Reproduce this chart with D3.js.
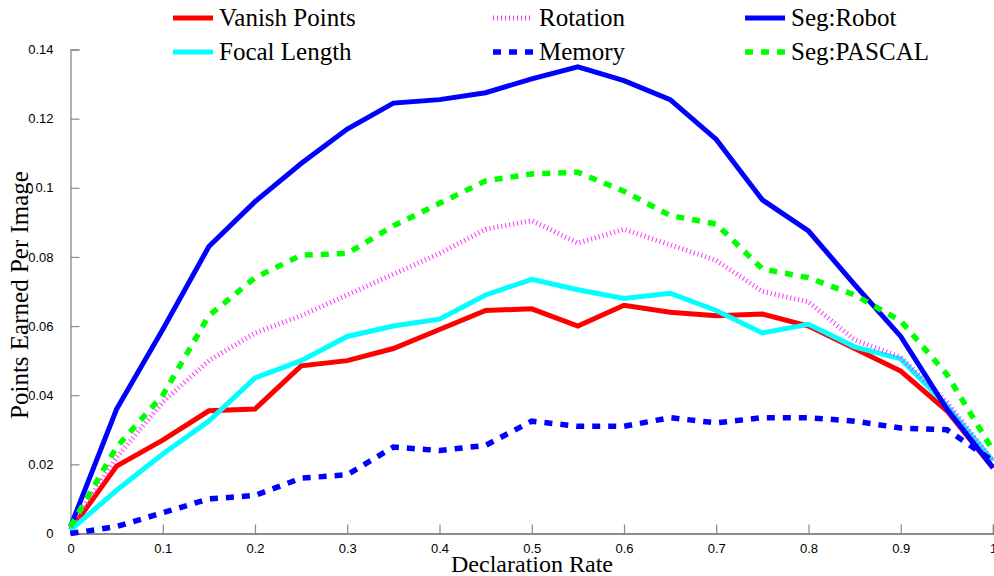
<!DOCTYPE html>
<html>
<head>
<meta charset="utf-8">
<script src="https://cdn.jsdelivr.net/npm/d3@7"></script>
<style>
  body { margin: 0; background: #fff; }
  svg { display: block; }
</style>
</head>
<body>
<div id="chart"></div>
<script>
// declaration rate sampled every 0.05
const rates = [0, 0.05, 0.1, 0.15, 0.2, 0.25, 0.3, 0.35, 0.4, 0.45, 0.5,
  0.55, 0.6, 0.65, 0.7, 0.75, 0.8, 0.85, 0.9, 0.95, 1.0];

const vanishPoints = [0.001, 0.0195, 0.027, 0.0355, 0.036, 0.0485, 0.050, 0.0535, 0.059, 0.0645, 0.065,
  0.060, 0.066, 0.064, 0.063, 0.0635, 0.060, 0.0535, 0.047, 0.0355, 0.019];
const focalLength = [0.001, 0.0125, 0.023, 0.0325, 0.045, 0.050, 0.057, 0.060, 0.062, 0.069, 0.0735,
  0.0705, 0.068, 0.0695, 0.0645, 0.058, 0.0605, 0.054, 0.0505, 0.037, 0.021];
const rotation = [0.002, 0.022, 0.038, 0.050, 0.058, 0.063, 0.069, 0.075, 0.081, 0.088, 0.0905,
  0.084, 0.088, 0.0835, 0.079, 0.070, 0.067, 0.056, 0.051, 0.038, 0.021];
const memory = [0.000, 0.002, 0.006, 0.010, 0.011, 0.016, 0.017, 0.025, 0.024, 0.0255, 0.0325,
  0.031, 0.031, 0.0335, 0.032, 0.0335, 0.0335, 0.0325, 0.0305, 0.030, 0.021];
const segRobot = [0.002, 0.036, 0.059, 0.083, 0.096, 0.107, 0.117, 0.1245, 0.1255, 0.1275, 0.1315,
  0.135, 0.131, 0.1255, 0.114, 0.0965, 0.0875, 0.072, 0.057, 0.036, 0.019];
const segPascal = [0.002, 0.025, 0.040, 0.063, 0.074, 0.0805, 0.081, 0.089, 0.0955, 0.102, 0.104,
  0.1045, 0.099, 0.092, 0.0895, 0.0765, 0.074, 0.069, 0.0615, 0.046, 0.024];

const xTicks = [0, 0.1, 0.2, 0.3, 0.4, 0.5, 0.6, 0.7, 0.8, 0.9, 1];
const yTicks = [0, 0.02, 0.04, 0.06, 0.08, 0.1, 0.12, 0.14];

// draw order follows legend order
const series = [
  { name: 'Vanish Points', values: vanishPoints, color: '#ff0000', width: 5, dash: null },
  { name: 'Focal Length', values: focalLength, color: '#00ffff', width: 5, dash: null },
  { name: 'Rotation', values: rotation, color: '#ff33ff', width: 5, dash: '1,3' },
  { name: 'Memory', values: memory, color: '#0000ff', width: 5.5, dash: '8,8' },
  { name: 'Seg:Robot', values: segRobot, color: '#0000ff', width: 5, dash: null },
  { name: 'Seg:PASCAL', values: segPascal, color: '#00ff00', width: 5.5, dash: '8,8' }
];

const width = 994, height = 576;
const svg = d3.select('#chart').append('svg')
  .attr('width', width)
  .attr('height', height);

const x = d3.scaleLinear().domain([0, 1]).range([70.5, 993]);
const y = d3.scaleLinear().domain([0, 0.14]).range([533.5, 49.5]);
const fmt = d3.format('~g');

// y axis (ticks point inward)
const yAxis = svg.append('g')
  .attr('transform', `translate(${x(0)},0)`)
  .call(d3.axisLeft(y).tickValues(yTicks).tickFormat(fmt).tickSize(-9).tickPadding(17));
yAxis.select('.domain').attr('stroke', '#999').attr('stroke-width', 1.5);
yAxis.selectAll('.tick line').attr('stroke', '#888').attr('stroke-width', 1.2);
yAxis.selectAll('.tick text')
  .attr('fill', '#000')
  .style('font-family', '"Liberation Sans", Arial, sans-serif')
  .style('font-size', '13px');

// x axis
const xAxis = svg.append('g')
  .attr('transform', `translate(0,${y(0)})`)
  .call(d3.axisBottom(x).tickValues(xTicks).tickFormat(fmt).tickSize(-9).tickPadding(10));
xAxis.select('.domain').attr('stroke', '#666').attr('stroke-width', 1.5);
xAxis.selectAll('.tick line').attr('stroke', '#888').attr('stroke-width', 1.2);
xAxis.selectAll('.tick text')
  .attr('fill', '#000')
  .style('font-family', '"Liberation Sans", Arial, sans-serif')
  .style('font-size', '13px');

// lines
const line = d3.line()
  .x((d, i) => x(rates[i]))
  .y(d => y(d));

series.forEach(s => {
  svg.append('path')
    .datum(s.values)
    .attr('d', line)
    .attr('fill', 'none')
    .attr('stroke', s.color)
    .attr('stroke-width', s.width)
    .attr('stroke-dasharray', s.dash)
    .attr('stroke-linejoin', 'miter');
});

// axis titles
svg.append('text')
  .attr('x', 532)
  .attr('y', 572)
  .attr('text-anchor', 'middle')
  .style('font-family', '"Liberation Serif", "Times New Roman", serif')
  .style('font-size', '24px')
  .text('Declaration Rate');

svg.append('text')
  .attr('transform', 'translate(28,295) rotate(-90)')
  .attr('text-anchor', 'middle')
  .style('font-family', '"Liberation Serif", "Times New Roman", serif')
  .style('font-size', '25px')
  .text('Points Earned Per Image');

// legend: 3 columns x 2 rows
const legendCols = [173, 493, 745];
const legendRows = [18, 52];
series.forEach((s, i) => {
  const lx = legendCols[Math.floor(i / 2)];
  const ly = legendRows[i % 2];
  svg.append('line')
    .attr('x1', lx).attr('x2', lx + 40)
    .attr('y1', ly).attr('y2', ly)
    .attr('stroke', s.color)
    .attr('stroke-width', s.width)
    .attr('stroke-dasharray', s.dash);
  svg.append('text')
    .attr('x', lx + 46)
    .attr('y', ly + 8)
    .style('font-family', '"Liberation Serif", "Times New Roman", serif')
    .style('font-size', '25px')
    .text(s.name);
});
</script>
</body>
</html>
